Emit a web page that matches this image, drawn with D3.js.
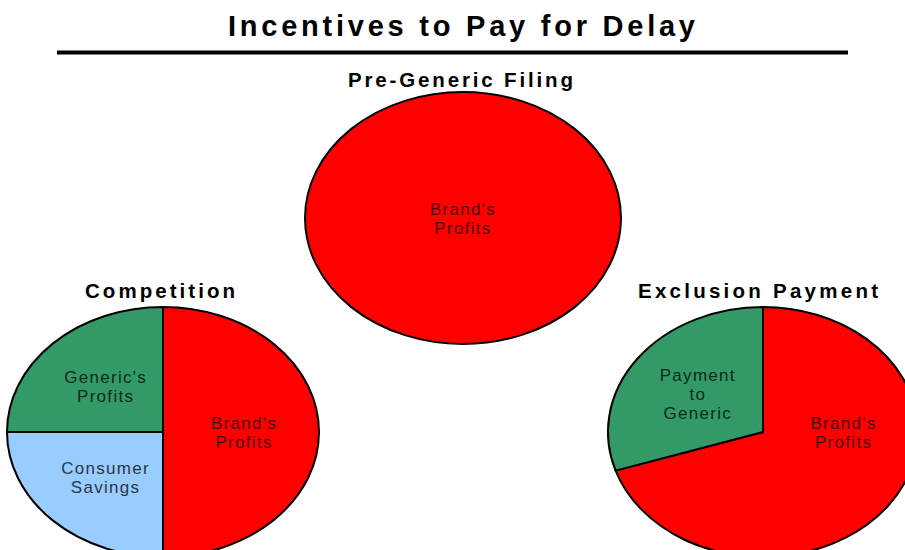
<!DOCTYPE html>
<html>
<head>
<meta charset="utf-8">
<script src="https://cdn.jsdelivr.net/npm/d3@7"></script>
<style>
  body { margin: 0; background: #fff; }
  text { font-family: "Liberation Sans", Arial, sans-serif; }
</style>
</head>
<body>
<div id="chart"></div>
<script>
var W = 905, H = 550;

// pie titles and slices
var pieTitles = ["Pre-Generic Filing", "Competition", "Exclusion Payment"];
var preLabels = ["Brand's Profits"];
var preValues = [100];
var compLabels = ["Brand's Profits", "Consumer Savings", "Generic's Profits"];
var compValues = [50, 25, 25];
var exclLabels = ["Brand's Profits", "Payment to Generic"];
var exclValues = [70, 30];

var colors = {
  "Brand's Profits": "#ff0000",
  "Generic's Profits": "#339966",
  "Consumer Savings": "#99ccff",
  "Payment to Generic": "#339966"
};
// how the labels are broken on lines
var labelLines = {
  "Brand's Profits": ["Brand's", "Profits"],
  "Generic's Profits": ["Generic's", "Profits"],
  "Consumer Savings": ["Consumer", "Savings"],
  "Payment to Generic": ["Payment", "to", "Generic"]
};

var svg = d3.select("#chart").append("svg")
  .attr("width", W)
  .attr("height", H);

svg.append("text")
  .attr("x", 461.5)
  .attr("y", 36)
  .attr("text-anchor", "middle")
  .attr("font-size", 29)
  .attr("font-weight", "bold")
  .attr("textLength", 467)
  .attr("lengthAdjust", "spacing")
  .text("Incentives to Pay for Delay");

svg.append("line")
  .attr("x1", 57).attr("x2", 848)
  .attr("y1", 52.5).attr("y2", 52.5)
  .attr("stroke", "#000")
  .attr("stroke-width", 4);

var R = 100;
var pie = d3.pie().sort(null).value(function(d) { return d.value; });
var arc = d3.arc().innerRadius(0).outerRadius(R);

// layout of each pie: centre, radii, title position
var pies = [
  {labels: preLabels, values: preValues, cx: 463, cy: 218, rx: 158, ry: 126, tx: 460.5, ty: 87, tw: 225},
  {labels: compLabels, values: compValues, cx: 163, cy: 432, rx: 156, ry: 125, tx: 160, ty: 298, tw: 150},
  {labels: exclLabels, values: exclValues, cx: 763, cy: 432, rx: 155, ry: 125, tx: 758, ty: 298, tw: 240}
];

pies.forEach(function(p, i) {
  var data = p.labels.map(function(l, j) { return {label: l, value: p.values[j]}; });
  var arcs = pie(data);

  svg.append("text")
    .attr("x", p.tx)
    .attr("y", p.ty)
    .attr("text-anchor", "middle")
    .attr("font-size", 20.5)
    .attr("font-weight", "bold")
    .attr("textLength", p.tw)
    .attr("lengthAdjust", "spacing")
    .text(pieTitles[i]);

  var g = svg.append("g")
    .attr("transform", "translate(" + p.cx + "," + p.cy + ") scale(" + p.rx / R + "," + p.ry / R + ")");

  g.selectAll("path")
    .data(arcs)
    .enter().append("path")
    .attr("d", arc)
    .attr("fill", function(d) { return colors[d.data.label]; })
    .attr("stroke", "#000")
    .attr("stroke-width", 2)
    .attr("stroke-linejoin", "round")
    .attr("vector-effect", "non-scaling-stroke");

  var lg = svg.append("g").attr("transform", "translate(" + p.cx + "," + p.cy + ")");
  arcs.forEach(function(d) {
    var lx, ly;
    var span = d.endAngle - d.startAngle;
    if (span >= 2 * Math.PI - 1e-6) {
      lx = 0; ly = 0;
    } else {
      // the label sits at 3 o'clock when the slice covers it
      var a = (d.startAngle <= Math.PI / 2 && d.endAngle >= Math.PI / 2) ? Math.PI / 2 : (d.startAngle + d.endAngle) / 2;
      var k = 0.52;
      lx = Math.sin(a) * p.rx * k;
      ly = -Math.cos(a) * p.ry * k;
    }
    var lines = labelLines[d.data.label];
    var lh = 19;
    var t = lg.append("text")
      .attr("text-anchor", "middle")
      .attr("font-size", 17)
      .attr("letter-spacing", 1.3)
      .attr("fill", d3.color(colors[d.data.label]).darker(3.6));
    lines.forEach(function(s, j) {
      t.append("tspan")
        .attr("x", lx)
        .attr("y", ly + (j - (lines.length - 1) / 2) * lh + 6)
        .text(s);
    });
  });
});
</script>
</body>
</html>
